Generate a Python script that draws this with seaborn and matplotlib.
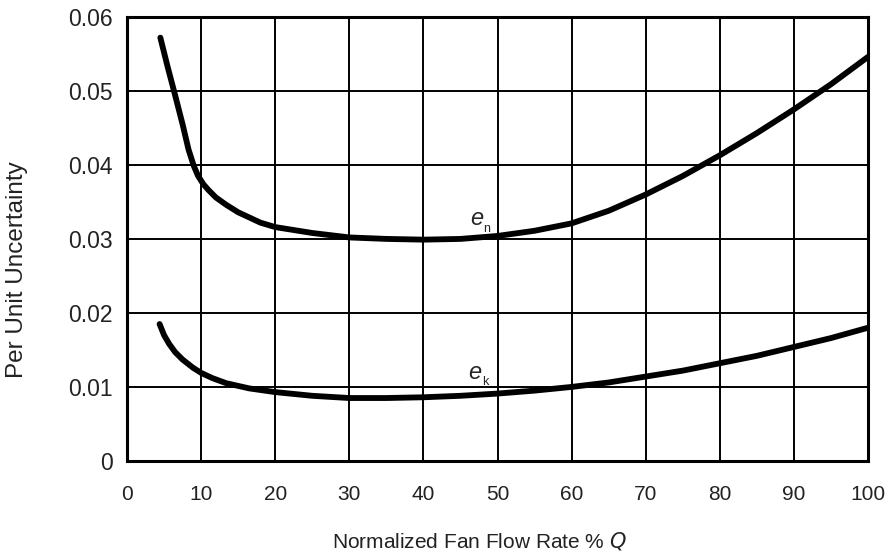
import matplotlib
matplotlib.use("Agg")
import matplotlib.pyplot as plt
import seaborn as sns

# values
flow_en = [4.5, 5.5, 6.5, 7.5, 8.3, 9.0, 9.6, 10.3, 11, 12, 13.4, 15, 16.5,
           18, 20, 25, 30, 35, 40, 45, 50, 55, 60, 65, 70, 75, 80, 85, 90,
           95, 100]
unc_en = [0.0572, 0.0532, 0.0494, 0.0455, 0.0421, 0.0399, 0.0385, 0.0374,
          0.0366, 0.0356, 0.0346, 0.0336, 0.0329, 0.0322, 0.0316, 0.0308,
          0.0302, 0.0300, 0.0299, 0.0300, 0.0304, 0.0311, 0.0321, 0.0338,
          0.0360, 0.0385, 0.0413, 0.0443, 0.0475, 0.0509, 0.0546]

flow_ek = [4.4, 5.0, 5.7, 6.5, 7.5, 8.9, 10, 11.5, 13.4, 16.5, 20, 25, 30,
           35, 40, 45, 50, 55, 60, 65, 70, 75, 80, 85, 90, 95, 100]
unc_ek = [0.0185, 0.0170, 0.0158, 0.0147, 0.0137, 0.0126, 0.0119, 0.0112,
          0.0105, 0.0098, 0.0093, 0.0088, 0.0085, 0.0085, 0.0086, 0.0088,
          0.0091, 0.0095, 0.0100, 0.0106, 0.0114, 0.0122, 0.0132, 0.0142,
          0.0154, 0.0166, 0.0180]

xticks = list(range(0, 101, 10))
yticks = [0, 0.01, 0.02, 0.03, 0.04, 0.05, 0.06]
yticklabels = ["0", "0.01", "0.02", "0.03", "0.04", "0.05", "0.06"]

sns.set_style("white")
plt.rcParams["font.family"] = ["Liberation Sans", "DejaVu Sans"]

fig = plt.figure(figsize=(8.88, 5.54), dpi=100)
ax = fig.add_axes([0.143, 0.168, 0.8345, 0.8015])

sns.lineplot(x=flow_en, y=unc_en, ax=ax, color="black", linewidth=4.2)
sns.lineplot(x=flow_ek, y=unc_ek, ax=ax, color="black", linewidth=4.2)

ax.set_xlim(0, 100)
ax.set_ylim(0, 0.06)
ax.set_xticks(xticks)
ax.set_xticklabels([str(t) for t in xticks])
ax.set_yticks(yticks)
ax.set_yticklabels(yticklabels)
ax.grid(True, color="black", linewidth=1.4)
ax.set_axisbelow(True)
for sp in ax.spines.values():
    sp.set_color("black")
    sp.set_linewidth(2.2)
ax.tick_params(length=0, colors="#222222")
ax.tick_params(axis="x", pad=17, labelsize=15)
ax.tick_params(axis="y", pad=10, labelsize=16.5)

ax.set_xlabel("Normalized Fan Flow Rate % $Q$", fontsize=15, color="#222222")
ax.xaxis.set_label_coords(0.476, -0.155)
ax.set_ylabel("Per Unit Uncertainty", fontsize=17.5, color="#222222")
ax.yaxis.set_label_coords(-0.133, 0.43)

# curve labels
ax.text(47.2, 0.0328, "e", style="italic", fontsize=17, ha="center",
        va="center")
ax.text(48.5, 0.0313, "n", fontsize=9, ha="center", va="center")
ax.text(46.9, 0.0119, "e", style="italic", fontsize=17, ha="center",
        va="center")
ax.text(48.4, 0.0106, "k", fontsize=9, ha="center", va="center")

fig.savefig("out.png", dpi=100)
